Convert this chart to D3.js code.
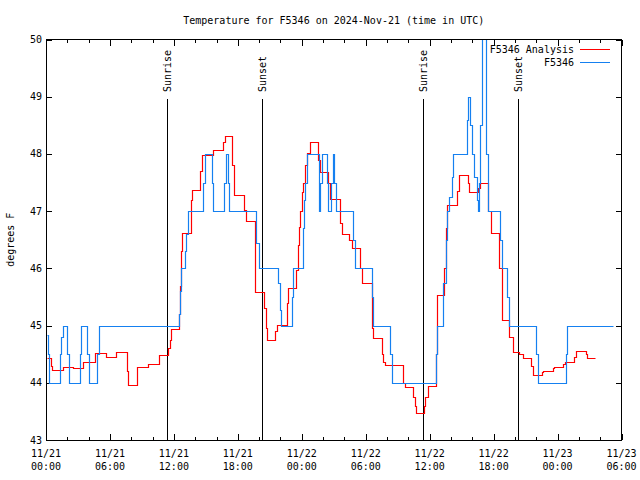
<!DOCTYPE html>
<html>
<head>
<meta charset="utf-8">
<script src="https://cdn.jsdelivr.net/npm/d3@7"></script>
<style>
  body { margin: 0; background: #fff; }
  text { font-family: "DejaVu Sans Mono", "Liberation Mono", monospace; font-size: 10px; fill: #000; }
</style>
</head>
<body>
<svg id="chart" width="640" height="480"></svg>
<script>
// ---- data (hours since 2024-11-21 00:00 UTC) ----
const analysisTimes = [0.12,0.5,0.6,1.62,2.56,3.5,4.6,5.63,6.57,7.57,7.7,8.56,9.6,10.6,11.47,11.6,11.75,12.5,12.6,12.68,12.76,13.6,13.7,14.45,14.65,15.65,16.57,16.75,17.45,17.6,18.6,18.75,19.63,20.47,20.6,20.76,21.5,21.64,22.58,22.73,23.45,23.61,23.7,23.8,23.99,24.14,24.3,24.5,24.77,25.55,25.7,26.48,26.64,27.58,27.74,28.45,28.68,29.46,29.67,30.55,30.7,31.49,31.6,31.8,33.52,33.68,34.46,34.62,34.71,35.46,35.6,35.8,36.59,36.65,36.71,37.34,37.5,37.59,38.53,38.77,39.56,39.71,40.55,40.71,41.49,41.75,42.52,42.75,43.46,43.78,44.4,44.72,45.5,45.71,46.5,46.65,47.59,47.65,48.53,48.69,49.53,49.72,50.66,50.78,51.5];
const analysisValues = [44.43,44.3,44.22,44.27,44.25,44.36,44.52,44.45,44.54,44.2,43.97,44.27,44.33,44.48,44.6,44.75,44.94,45.2,45.7,46.3,46.61,47.2,47.37,47.7,47.98,48.07,48.2,48.31,47.8,47.28,47.02,46.82,45.59,45.3,44.95,44.75,44.9,45.01,45.4,45.65,45.97,46.4,46.73,47.0,47.34,47.5,47.8,48.01,48.21,47.9,47.69,47.49,47.21,46.8,46.6,46.5,46.35,46.0,45.74,44.95,44.78,44.5,44.37,44.31,44.0,43.92,43.75,43.6,43.47,43.6,43.75,43.94,44.5,45.13,45.53,46.0,46.7,47.11,47.35,47.64,47.5,47.34,47.4,47.49,47.0,46.61,46.0,45.1,44.8,44.54,44.5,44.43,44.3,44.14,44.18,44.21,44.25,44.28,44.33,44.37,44.45,44.56,44.5,44.43,44.43];

const obsTimes = [0.12,0.2,0.3,1.31,1.45,1.56,2.0,2.12,3.19,3.31,3.81,4.0,4.81,5.0,12.5,12.6,12.7,13.0,13.15,13.29,14.76,14.9,15.57,15.7,16.73,16.9,17.04,17.2,19.7,19.95,21.79,21.95,22.05,23.05,23.2,24.08,24.2,24.3,24.45,25.64,25.75,25.86,26.33,26.5,26.74,26.9,27.02,27.2,28.77,28.95,30.55,30.7,32.27,32.49,36.59,36.7,37.21,37.52,37.65,37.84,38.06,38.21,39.46,39.62,39.77,39.95,40.15,40.4,40.5,40.6,40.75,40.9,41.3,41.5,42.59,42.75,43.27,43.46,45.97,46.18,48.75,48.9,53.22];
const obsValues = [44.84,44.5,44.0,44.5,44.8,45.0,44.5,44.0,44.5,45.0,44.5,44.0,44.5,45.0,45.2,45.6,46.0,46.3,46.6,47.0,47.5,48.0,47.5,47.0,47.5,48.0,47.5,47.0,46.44,46.0,45.74,45.27,45.0,45.5,46.0,46.7,47.2,47.5,48.0,47.0,47.5,48.0,47.5,47.0,47.5,48.0,47.5,47.0,46.5,46.0,45.5,45.0,44.5,44.0,44.5,45.0,45.74,46.5,47.0,47.25,47.6,48.0,48.6,49.0,48.5,48.0,47.6,47.2,47.0,47.5,48.5,50.3,48.0,47.0,46.5,46.0,45.5,45.0,44.5,44.0,44.5,45.0,45.0];

const sunEventTimes = [11.38, 20.29, 35.39, 44.33];
const sunEventLabels = ["Sunrise", "Sunset", "Sunrise", "Sunset"];

const xMajorTicks = [0, 6, 12, 18, 24, 30, 36, 42, 48, 54];
const xMajorLabels = [["11/21","00:00"],["11/21","06:00"],["11/21","12:00"],["11/21","18:00"],["11/22","00:00"],["11/22","06:00"],["11/22","12:00"],["11/22","18:00"],["11/23","00:00"],["11/23","06:00"]];
const xMinorTicks = [2,4,8,10,14,16,20,22,26,28,32,34,38,40,44,46,50,52];
const yTicks = [43, 44, 45, 46, 47, 48, 49, 50];

const titleText = "Temperature for F5346 on 2024-Nov-21 (time in UTC)";
const yTitle = "degrees F";
const seriesNames = ["F5346 Analysis", "F5346"];
const seriesColors = ["#ff0000", "#1580f0"];

// ---- layout ----
const L = 46, R = 621.5, T = 39.5, B = 440;
const svg = d3.select("#chart");
const x = d3.scaleLinear().domain([0, 54]).range([L, R]);
const y = d3.scaleLinear().domain([43, 50]).range([B, T]);
const px = v => Math.round(v) + 0.5;

svg.append("defs").append("clipPath").attr("id", "plotclip")
  .append("rect").attr("x", L).attr("y", T).attr("width", R - L).attr("height", B - T);

// axes (inward ticks)
function styleAxis(g) {
  g.select(".domain").remove();
  g.selectAll("line").attr("stroke", "#000").attr("shape-rendering", "crispEdges");
  g.selectAll("text").remove();
}
svg.append("g").attr("transform", `translate(0,${B})`)
  .call(d3.axisBottom(x).tickValues(xMajorTicks).tickSizeInner(-6).tickSizeOuter(0)).call(styleAxis);
svg.append("g").attr("transform", `translate(0,${B})`)
  .call(d3.axisBottom(x).tickValues(xMinorTicks).tickSizeInner(-3).tickSizeOuter(0)).call(styleAxis);
svg.append("g").attr("transform", `translate(0,${T})`)
  .call(d3.axisTop(x).tickValues(xMajorTicks).tickSizeInner(-6).tickSizeOuter(0)).call(styleAxis);
svg.append("g").attr("transform", `translate(0,${T})`)
  .call(d3.axisTop(x).tickValues(xMinorTicks).tickSizeInner(-3).tickSizeOuter(0)).call(styleAxis);
svg.append("g").attr("transform", `translate(${L},0)`)
  .call(d3.axisLeft(y).tickValues(yTicks).tickSizeInner(-6).tickSizeOuter(0)).call(styleAxis);
svg.append("g").attr("transform", `translate(${R},0)`)
  .call(d3.axisRight(y).tickValues(yTicks).tickSizeInner(-6).tickSizeOuter(0)).call(styleAxis);

// tick labels
svg.append("g").selectAll("text").data(yTicks).join("text")
  .attr("x", 42).attr("y", d => y(d)).attr("dy", "0.35em")
  .attr("text-anchor", "end").text(d => d);
const xl = svg.append("g").selectAll("text").data(xMajorTicks).join("text")
  .attr("text-anchor", "middle");
xl.append("tspan").attr("x", d => x(d)).attr("y", 457).text((d, i) => xMajorLabels[i][0]);
xl.append("tspan").attr("x", d => x(d)).attr("y", 470).text((d, i) => xMajorLabels[i][1]);

// sunrise / sunset
const sun = svg.append("g");
sun.selectAll("line").data(sunEventTimes).join("line")
  .attr("x1", d => px(x(d))).attr("x2", d => px(x(d))).attr("y1", 99).attr("y2", B)
  .attr("stroke", "#000");
sun.selectAll("text").data(sunEventTimes).join("text")
  .attr("transform", d => `translate(${x(d) + 0.5},92) rotate(-90)`)
  .attr("dy", "0.35em").attr("text-anchor", "start")
  .text((d, i) => sunEventLabels[i]);

// series
const line = d3.line().x(d => px(x(d[0]))).y(d => px(y(d[1]))).curve(d3.curveStepAfter);
const aData = analysisTimes.map((t, i) => [t, analysisValues[i]]);
const oData = obsTimes.map((t, i) => [t, obsValues[i]]);
const plot = svg.append("g").attr("clip-path", "url(#plotclip)");
plot.append("path").datum(aData).attr("d", line).attr("fill", "none")
  .attr("stroke", seriesColors[0]).attr("stroke-width", 1.2);
plot.append("path").datum(oData).attr("d", line).attr("fill", "none")
  .attr("stroke", seriesColors[1]).attr("stroke-width", 1.2);

// frame
svg.append("rect").attr("x", L).attr("y", T).attr("width", R - L).attr("height", B - T)
  .attr("fill", "none").attr("stroke", "#000").attr("shape-rendering", "crispEdges");

// legend
const lg = svg.append("g");
seriesNames.forEach((name, i) => {
  const ly = 49.5 + i * 13;
  lg.append("text").attr("x", 574).attr("y", ly).attr("dy", "0.35em")
    .attr("text-anchor", "end").text(name);
  lg.append("line").attr("x1", 580).attr("x2", 610).attr("y1", ly).attr("y2", ly)
    .attr("stroke", seriesColors[i]).attr("shape-rendering", "crispEdges");
});

// titles
svg.append("text").attr("x", (L + R) / 2).attr("y", 24).attr("text-anchor", "middle").text(titleText);
svg.append("text").attr("transform", `translate(14,${(T + B) / 2}) rotate(-90)`)
  .attr("text-anchor", "middle").text(yTitle);
</script>
</body>
</html>
